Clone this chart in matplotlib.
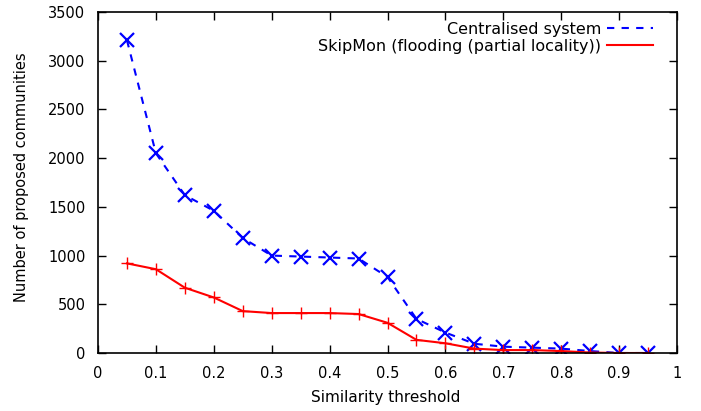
import matplotlib
matplotlib.use('Agg')
import matplotlib.pyplot as plt
from matplotlib.lines import Line2D

thresholds = [0.05, 0.1, 0.15, 0.2, 0.25, 0.3, 0.35, 0.4, 0.45, 0.5,
              0.55, 0.6, 0.65, 0.7, 0.75, 0.8, 0.85, 0.9, 0.95]
centralised = [3210, 2050, 1620, 1460, 1180, 1000, 990, 980, 970, 780,
               350, 210, 95, 65, 55, 45, 20, 0, 0]
skipmon = [920, 860, 670, 570, 430, 410, 410, 410, 400, 310,
           135, 100, 45, 30, 30, 20, 5, 0, 0]

xticks = [0, 0.1, 0.2, 0.3, 0.4, 0.5, 0.6, 0.7, 0.8, 0.9, 1]
xticklabels = ['0', '0.1', '0.2', '0.3', '0.4', '0.5', '0.6', '0.7', '0.8', '0.9', '1']
yticks = [0, 500, 1000, 1500, 2000, 2500, 3000, 3500]

plt.rcParams['font.family'] = 'DejaVu Sans'
plt.rcParams['font.size'] = 10.5

fig = plt.figure(figsize=(7.01, 4.11), dpi=100)
ax = fig.add_axes([0.1398, 0.1411, 0.8260, 0.8297])

dash = (0, (3.5, 3.5))
ax.plot(thresholds, centralised, color='#0000ff', linestyle=dash,
        linewidth=1.5, marker='x', markersize=10, markeredgewidth=1.6)
ax.plot(thresholds, skipmon, color='#ff0000', linestyle='-',
        linewidth=1.5, marker='+', markersize=8, markeredgewidth=1.0)

ax.set_xlim(0, 1)
ax.set_ylim(0, 3500)
ax.set_xticks(xticks)
ax.set_xticklabels(xticklabels)
ax.set_yticks(yticks)
ax.tick_params(direction='in', length=6, width=1, top=True, right=True, labelsize=10.5)
ax.tick_params(axis='x', pad=9.5)
ax.tick_params(axis='y', pad=9)
for s in ax.spines.values():
    s.set_linewidth(1.2)

ax.set_xlabel('Similarity threshold', fontsize=11)
ax.xaxis.set_label_coords(0.496, -0.108)
ax.set_ylabel('Number of proposed communities', fontsize=10.5)
ax.yaxis.set_label_coords(-0.12, 0.516)

handles = [Line2D([], [], color='#0000ff', linestyle=dash, linewidth=1.5),
           Line2D([], [], color='#ff0000', linestyle='-', linewidth=1.5)]
labels = ['Centralised system', 'SkipMon (flooding (partial locality))']
ax.legend(handles, labels, loc='upper right', frameon=False, markerfirst=False,
          fontsize=11.5, handlelength=2.9, handletextpad=0.35, labelspacing=0.15,
          borderaxespad=0.2, bbox_to_anchor=(0.975, 1.0))

fig.savefig('out.png', dpi=100)
